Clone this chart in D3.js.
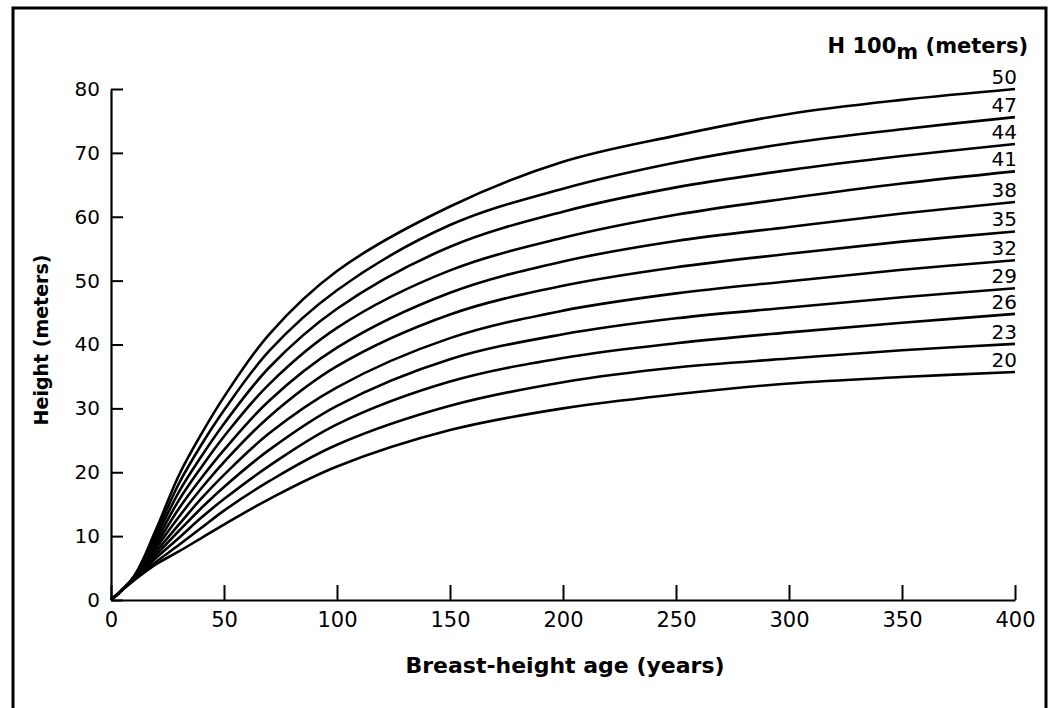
<!DOCTYPE html>
<html>
<head>
<meta charset="utf-8">
<script src="https://cdn.jsdelivr.net/npm/d3@7"></script>
<style>
  body { margin: 0; background: #fff; }
  text { font-family: "DejaVu Sans", sans-serif; fill: #000; }
</style>
</head>
<body>
<script>
// Breast-height age (years) where each curve was read
var ages = [0, 10, 20, 30, 40, 50, 70, 100, 150, 200, 250, 300, 350, 400];

// Curve names (H 100m, meters)
var siteIndex = [50, 47, 44, 41, 38, 35, 32, 29, 26, 23, 20];

// Heights (meters) for each curve, one value per age
var h50 = [0, 3.6, 11.1, 19.5, 26.0, 31.8, 41.6, 51.5, 61.6, 68.6, 72.7, 76.1, 78.3, 80.0];
var h47 = [0, 3.6, 10.5, 18.2, 24.3, 29.7, 39.0, 48.5, 58.7, 64.4, 68.5, 71.5, 73.7, 75.6];
var h44 = [0, 3.5, 9.9, 16.9, 22.5, 27.6, 36.4, 45.6, 55.3, 60.8, 64.6, 67.3, 69.5, 71.4];
var h41 = [0, 3.5, 9.3, 15.6, 20.8, 25.6, 33.8, 42.6, 51.6, 56.7, 60.3, 62.9, 65.2, 67.1];
var h38 = [0, 3.4, 8.7, 14.3, 19.1, 23.5, 31.2, 39.5, 48.1, 53.0, 56.2, 58.4, 60.5, 62.3];
var h35 = [0, 3.4, 8.2, 13.0, 17.5, 21.6, 28.7, 36.6, 44.7, 49.2, 52.1, 54.2, 56.1, 57.7];
var h32 = [0, 3.3, 7.6, 11.8, 15.9, 19.6, 26.1, 33.3, 41.0, 45.3, 48.0, 49.9, 51.7, 53.2];
var h29 = [0, 3.3, 7.1, 10.8, 14.4, 17.7, 23.5, 30.4, 37.7, 41.6, 44.1, 45.8, 47.4, 48.8];
var h26 = [0, 3.2, 6.6, 9.7, 12.9, 15.8, 21.0, 27.5, 34.2, 37.9, 40.2, 41.9, 43.4, 44.8];
var h23 = [0, 3.2, 6.0, 8.6, 11.3, 14.0, 18.6, 24.3, 30.4, 34.1, 36.4, 37.8, 39.1, 40.1];
var h20 = [0, 3.0, 5.6, 7.6, 9.7, 11.8, 15.8, 20.9, 26.6, 30.0, 32.2, 33.9, 34.9, 35.7];

// Tick values
var xTicks = [0, 50, 100, 150, 200, 250, 300, 350, 400];
var yTicks = [0, 10, 20, 30, 40, 50, 60, 70, 80];

var heights = [h50, h47, h44, h41, h38, h35, h32, h29, h26, h23, h20];

// SVG size
var svgWidth = 1052;
var svgHeight = 708;

var chartMargin = { top: 89, right: 37, bottom: 108, left: 111 };
var chartWidth = svgWidth - chartMargin.left - chartMargin.right;
var chartHeight = svgHeight - chartMargin.top - chartMargin.bottom;

var svg = d3.select("body")
  .append("svg")
  .attr("width", svgWidth)
  .attr("height", svgHeight);

// outer frame
svg.append("path")
  .attr("d", "M13,708 V8 H1046 V708")
  .attr("fill", "none")
  .attr("stroke", "#000")
  .attr("stroke-width", 3);

var chartGroup = svg.append("g")
  .attr("transform", `translate(${chartMargin.left}, ${chartMargin.top})`);

var xScale = d3.scaleLinear().domain([0, 400]).range([0, chartWidth]);
var yScale = d3.scaleLinear().domain([0, 80]).range([chartHeight, 0]);

// axes: ticks point into the plot
var bottomAxis = d3.axisBottom(xScale).tickValues(xTicks).tickSizeInner(-15).tickSizeOuter(0).tickPadding(12);
var leftAxis = d3.axisLeft(yScale).tickValues(yTicks).tickSizeInner(-12).tickSizeOuter(0).tickPadding(11);

var xAxisG = chartGroup.append("g")
  .attr("transform", `translate(0, ${chartHeight})`)
  .call(bottomAxis);

var yAxisG = chartGroup.append("g")
  .call(leftAxis);

[xAxisG, yAxisG].forEach(function(g) {
  g.select(".domain").attr("stroke", "#000").attr("stroke-width", 2.2);
  g.selectAll(".tick line").attr("stroke", "#000").attr("stroke-width", 2);
  g.selectAll(".tick text").attr("font-family", "DejaVu Sans").attr("fill", "#000");
});
xAxisG.selectAll(".tick text").attr("font-size", 21);
yAxisG.selectAll(".tick text").attr("font-size", 20);

// curves
var drawLine = d3.line()
  .x(function(d) { return xScale(d[0]); })
  .y(function(d) { return yScale(d[1]); })
  .curve(d3.curveCatmullRom.alpha(0.5));

heights.forEach(function(h, i) {
  var pts = ages.map(function(a, j) { return [a, h[j]]; });
  chartGroup.append("path")
    .attr("d", drawLine(pts))
    .attr("fill", "none")
    .attr("stroke", "#000")
    .attr("stroke-width", 2.6);

  // label just above the right end of each curve
  chartGroup.append("text")
    .attr("x", xScale(400) + 2)
    .attr("y", yScale(h[h.length - 1]) - 5)
    .attr("text-anchor", "end")
    .attr("font-size", 20)
    .text(siteIndex[i]);
});

// legend title
var legendTitle = svg.append("text")
  .attr("x", 1028)
  .attr("y", 53)
  .attr("text-anchor", "end")
  .attr("font-size", 21)
  .attr("font-weight", "bold");
legendTitle.append("tspan").text("H 100");
legendTitle.append("tspan").attr("dy", 6).text("m");
legendTitle.append("tspan").attr("dy", -6).text(" (meters)");

// axis titles
svg.append("text")
  .attr("x", 565)
  .attr("y", 673)
  .attr("text-anchor", "middle")
  .attr("font-size", 22)
  .attr("font-weight", "bold")
  .text("Breast-height age (years)");

svg.append("text")
  .attr("transform", "translate(48, 340) rotate(-90)")
  .attr("text-anchor", "middle")
  .attr("font-size", 19)
  .attr("font-weight", "bold")
  .text("Height (meters)");
</script>
</body>
</html>
